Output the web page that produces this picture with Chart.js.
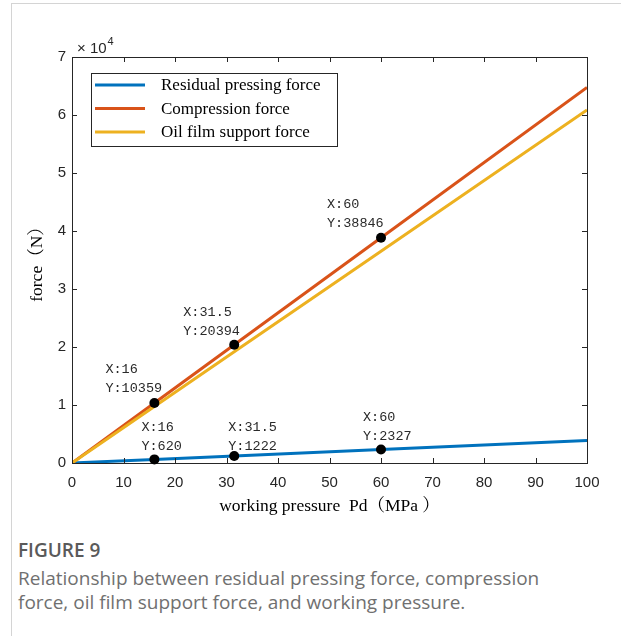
<!DOCTYPE html>
<html>
<head>
<meta charset="utf-8">
<script src="https://cdn.jsdelivr.net/npm/chart.js@4.4.1/dist/chart.umd.min.js"></script>
<style>
  body { margin: 0; background: #fff; width: 621px; height: 636px; overflow: hidden; position: relative; }
  #frame { position: absolute; left: 11px; top: 3px; width: 700px; height: 700px;
           border-left: 1px solid #d4d4d4; border-top: 1px solid #d4d4d4; }
  #wrap { position: absolute; left: 0; top: 0; width: 621px; height: 520px; }
  #caption { position: absolute; left: 18px; top: 536px; width: 603px; white-space: nowrap;
             font-family: "Open Sans", "Noto Sans", sans-serif; color: #707070; }
  #caption .fig { font-size: 19px; font-weight: 600; color: #5a5a5a; line-height: 28px; }
  #caption .txt { font-size: 19px; line-height: 24px; font-weight: 400; margin-top: 2px; }
</style>
</head>
<body>
<div id="frame"></div>
<div id="wrap"><canvas id="forceChart" width="621" height="520"></canvas></div>
<div id="caption">
  <div class="fig">FIGURE 9</div>
  <div class="txt">Relationship between residual pressing force, compression<br>force, oil film support force, and working pressure.</div>
</div>
<script>
// working pressure Pd (MPa)
const pressure = [0, 16, 31.5, 60, 100];
// forces (N)
const residual = [0, 620, 1222, 2327, 3878];
const compression = [0, 10359, 20394, 38846, 64743];
const oilFilm = [0, 9739, 19172, 36519, 60865];

const seriesNames = ["Residual pressing force", "Compression force", "Oil film support force"];
const seriesColors = ["#0072BD", "#D95319", "#EDB120"];

const xTicks = [0, 10, 20, 30, 40, 50, 60, 70, 80, 90, 100];
const yTicks = [0, 10000, 20000, 30000, 40000, 50000, 60000, 70000];

// data tips: series index, point index, label offset
const tips = [
  { s: 1, i: 1, dx: -49, dy: -33 },
  { s: 1, i: 2, dx: -51, dy: -32 },
  { s: 1, i: 3, dx: -54, dy: -33 },
  { s: 0, i: 1, dx: -13, dy: -32 },
  { s: 0, i: 2, dx: -6, dy: -28 },
  { s: 0, i: 3, dx: -18, dy: -32 }
];

const allSeries = [residual, compression, oilFilm];

function toPoints(arr) {
  return pressure.map((p, k) => ({ x: p, y: arr[k] }));
}

const axisColor = "#262626";
const serif = "'Liberation Serif', 'Noto Serif CJK SC', 'Noto Sans CJK SC', serif";
const sans = "'Liberation Sans', Arial, sans-serif";

const overlay = {
  id: "overlay",
  afterDatasetsDraw(chart) {
    const ctx = chart.ctx;
    const a = chart.chartArea;
    const xs = chart.scales.x, ys = chart.scales.y;
    ctx.save();

    // inner ticks on all sides
    ctx.strokeStyle = axisColor;
    ctx.lineWidth = 1;
    ctx.beginPath();
    xTicks.forEach(v => {
      const px = Math.round(xs.getPixelForValue(v)) + 0.5;
      ctx.moveTo(px, a.bottom); ctx.lineTo(px, a.bottom - 5);
      ctx.moveTo(px, a.top); ctx.lineTo(px, a.top + 5);
    });
    yTicks.forEach(v => {
      const py = Math.round(ys.getPixelForValue(v)) + 0.5;
      ctx.moveTo(a.left, py); ctx.lineTo(a.left + 5, py);
      ctx.moveTo(a.right, py); ctx.lineTo(a.right - 5, py);
    });
    ctx.stroke();
    ctx.strokeRect(Math.round(a.left) + 0.5, Math.round(a.top) + 0.5,
                   Math.round(a.right - a.left), Math.round(a.bottom - a.top));

    // data tips
    tips.forEach(t => {
      const px = xs.getPixelForValue(pressure[t.i]);
      const py = ys.getPixelForValue(allSeries[t.s][t.i]);
      ctx.fillStyle = "#000";
      ctx.beginPath();
      ctx.arc(px, py, 5, 0, Math.PI * 2);
      ctx.fill();
      ctx.fillStyle = "#2a2a2a";
      ctx.font = "13.5px 'Liberation Mono', monospace";
      ctx.textBaseline = "middle";
      ctx.textAlign = "left";
      ctx.fillText("X:" + pressure[t.i], px + t.dx, py + t.dy);
      ctx.fillText("Y:" + allSeries[t.s][t.i], px + t.dx, py + t.dy + 19);
    });

    // legend
    const lx = 91, ly = 73, lw = 246, lh = 73;
    ctx.fillStyle = "#fff";
    ctx.fillRect(lx, ly, lw, lh);
    ctx.strokeStyle = axisColor;
    ctx.strokeRect(lx + 0.5, ly + 0.5, lw, lh);
    seriesNames.forEach((name, k) => {
      const yy = ly + 12 + k * 23.5;
      ctx.strokeStyle = seriesColors[k];
      ctx.lineWidth = 3;
      ctx.beginPath();
      ctx.moveTo(95, yy); ctx.lineTo(145, yy);
      ctx.stroke();
      ctx.fillStyle = "#000";
      ctx.font = "17px " + serif;
      ctx.textBaseline = "middle";
      ctx.fillText(name, 161, yy + 1);
    });

    // exponent label
    ctx.fillStyle = axisColor;
    ctx.textBaseline = "alphabetic";
    ctx.font = "15px " + sans;
    ctx.fillText("\u00d7 10", a.left + 5, a.top - 4);
    const w = ctx.measureText("\u00d7 10").width;
    ctx.font = "11px " + sans;
    ctx.fillText("4", a.left + 5 + w + 1, a.top - 12);

    // axis titles
    ctx.fillStyle = "#000";
    ctx.font = "17.5px " + serif;
    ctx.textAlign = "center";
    ctx.textBaseline = "middle";
    ctx.fillText("working pressure  Pd\uff08MPa \uff09", (a.left + a.right) / 2, 506);
    ctx.translate(37, (a.top + a.bottom) / 2);
    ctx.rotate(-Math.PI / 2);
    ctx.fillText("force\uff08N\uff09", 0, 0);
    ctx.restore();
  }
};

const ctx = document.getElementById("forceChart").getContext("2d");
new Chart(ctx, {
  type: "line",
  data: {
    datasets: allSeries.map((arr, k) => ({
      label: seriesNames[k],
      data: toPoints(arr),
      borderColor: seriesColors[k],
      borderWidth: 3,
      pointRadius: 0,
      fill: false,
      tension: 0,
      order: 3 - k
    }))
  },
  options: {
    responsive: false,
    animation: false,
    layout: { padding: { left: 0, top: 57, right: 34, bottom: 0 } },
    plugins: { legend: { display: false }, tooltip: { enabled: false } },
    scales: {
      x: {
        type: "linear", min: 0, max: 100,
        afterFit: s => { s.height = 57; },
        afterBuildTicks: s => { s.ticks = xTicks.map(v => ({ value: v })); },
        grid: { display: false, drawTicks: false },
        border: { display: false },
        ticks: { color: axisColor, padding: 11, font: { family: sans, size: 15 } }
      },
      y: {
        type: "linear", min: 0, max: 70000,
        afterFit: s => { s.width = 72; },
        afterBuildTicks: s => { s.ticks = yTicks.map(v => ({ value: v })); },
        grid: { display: false, drawTicks: false },
        border: { display: false },
        ticks: {
          color: axisColor, padding: 6,
          font: { family: sans, size: 15 },
          callback: v => v / 10000
        }
      }
    }
  },
  plugins: [overlay]
});
</script>
</body>
</html>
